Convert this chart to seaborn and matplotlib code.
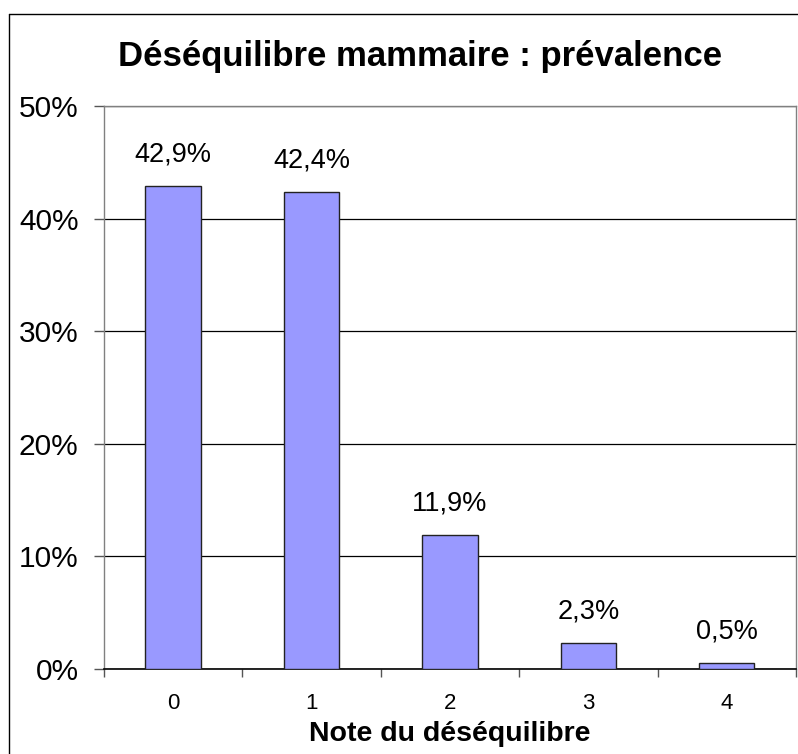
import pandas as pd
import matplotlib.pyplot as plt
import seaborn as sns
from matplotlib.lines import Line2D

# data
notes = ["0", "1", "2", "3", "4"]
prevalence = [42.9, 42.4, 11.9, 2.3, 0.5]
y_ticks = [0, 10, 20, 30, 40, 50]
y_tick_labels = ["0%", "10%", "20%", "30%", "40%", "50%"]

df = pd.DataFrame({"note": notes, "prev": prevalence})

sns.set_style("white")
plt.rcParams['font.family'] = ['Liberation Sans', 'DejaVu Sans']
plt.rcParams['text.color'] = 'black'
plt.rcParams['axes.labelcolor'] = 'black'

fig = plt.figure(figsize=(7.98, 7.54), dpi=100)
ax = fig.add_axes([0.130, 0.1127, 0.8675, 0.7467])

sns.barplot(data=df, x="note", y="prev", color="#9999FF", width=0.4,
            edgecolor="#222222", linewidth=1, saturation=1, ax=ax, zorder=3)

# value labels
for i, v in enumerate(prevalence):
    ax.text(i, v + 2.8, f"{v:.1f}%".replace(".", ","), ha="center", va="center",
            fontsize=19.5, color="black")

ax.set_ylim(0, 50)
ax.set_xlim(-0.5, len(notes) - 0.5)
ax.set_yticks(y_ticks)
ax.set_yticklabels(y_tick_labels, fontsize=21.5)
ax.yaxis.grid(True, color="black", linewidth=0.9, zorder=0)
ax.set_axisbelow(True)

# x ticks at category boundaries, labels at centres
ax.set_xticks([i - 0.5 for i in range(len(notes) + 1)])
ax.set_xticklabels([])
ax.set_xticks(range(len(notes)), minor=True)
ax.set_xticklabels(notes, minor=True, fontsize=16)
ax.tick_params(axis="x", which="minor", length=0, pad=17, labelcolor="black")
ax.tick_params(axis="x", which="major", length=6, width=1, color="#555555", direction="out", bottom=True)
ax.tick_params(axis="y", length=7, width=1, color="#555555", direction="out", left=True, pad=11,
               labelcolor="black")

ax.set_xlabel("Note du déséquilibre", fontsize=20.5, fontweight="bold", labelpad=5)
ax.set_ylabel("")

for side in ["top", "right", "left"]:
    ax.spines[side].set_visible(True)
    ax.spines[side].set_color("#808080")
    ax.spines[side].set_linewidth(1)
ax.spines["bottom"].set_color("black")
ax.spines["bottom"].set_linewidth(1.2)

fig.text(0.526, 0.925, "Déséquilibre mammaire : prévalence", ha="center", va="center",
         fontsize=25, fontweight="bold")

# outer chart border (cropped on right and bottom)
fig.lines.append(Line2D([9 / 798, 9 / 798], [0, 1 - 14 / 754], transform=fig.transFigure,
                        color="black", linewidth=1))
fig.lines.append(Line2D([9 / 798, 1], [1 - 14 / 754, 1 - 14 / 754], transform=fig.transFigure,
                        color="black", linewidth=1))

fig.savefig("out.png", dpi=100)
